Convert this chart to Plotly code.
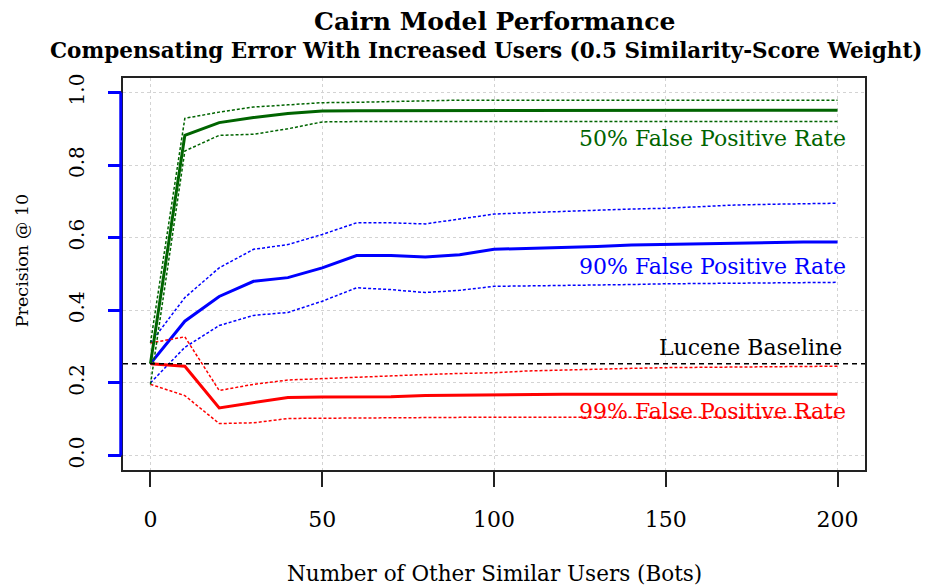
import plotly.graph_objects as go

# ---------------- data ----------------
bots = [0, 10, 20, 30, 40, 50, 60, 70, 80, 90, 100, 110, 120, 130, 140, 150, 160, 170, 180, 190, 200]

fp50_mean  = [0.253, 0.882, 0.917, 0.931, 0.942, 0.949, 0.950, 0.950, 0.950, 0.950, 0.951, 0.951, 0.951, 0.951, 0.951, 0.951, 0.951, 0.951, 0.951, 0.951, 0.951]
fp50_upper = [0.310, 0.929, 0.946, 0.960, 0.966, 0.972, 0.973, 0.975, 0.979, 0.979, 0.979, 0.979, 0.979, 0.979, 0.979, 0.979, 0.979, 0.979, 0.979, 0.979, 0.979]
fp50_lower = [0.196, 0.839, 0.882, 0.885, 0.900, 0.919, 0.920, 0.920, 0.920, 0.920, 0.920, 0.920, 0.920, 0.920, 0.920, 0.920, 0.920, 0.920, 0.920, 0.920, 0.920]

fp90_mean  = [0.253, 0.370, 0.438, 0.480, 0.490, 0.517, 0.551, 0.551, 0.547, 0.553, 0.568, 0.570, 0.572, 0.576, 0.580, 0.582, 0.583, 0.585, 0.588, 0.588, 0.588]
fp90_upper = [0.310, 0.435, 0.517, 0.568, 0.581, 0.609, 0.641, 0.641, 0.638, 0.652, 0.665, 0.669, 0.673, 0.675, 0.679, 0.681, 0.686, 0.690, 0.692, 0.694, 0.695]
fp90_lower = [0.200, 0.298, 0.358, 0.386, 0.394, 0.425, 0.462, 0.457, 0.449, 0.455, 0.466, 0.467, 0.467, 0.469, 0.471, 0.473, 0.474, 0.475, 0.476, 0.477, 0.477]

fp99_mean  = [0.253, 0.246, 0.131, 0.145, 0.160, 0.161, 0.161, 0.162, 0.165, 0.166, 0.169, 0.169, 0.169, 0.169, 0.169, 0.169, 0.169, 0.169, 0.169, 0.169, 0.169]
fp99_upper = [0.310, 0.327, 0.179, 0.196, 0.208, 0.212, 0.214, 0.218, 0.223, 0.226, 0.228, 0.233, 0.236, 0.238, 0.240, 0.242, 0.243, 0.245, 0.246, 0.246, 0.246]
fp99_lower = [0.196, 0.165, 0.088, 0.090, 0.102, 0.103, 0.104, 0.105, 0.105, 0.105, 0.105, 0.105, 0.105, 0.105, 0.105, 0.105, 0.105, 0.105, 0.105, 0.105, 0.105]

lucene_baseline = 0.253

x_ticks = [0, 50, 100, 150, 200]
y_ticks = [0.0, 0.2, 0.4, 0.6, 0.8, 1.0]
y_tick_labels = ["0.0", "0.2", "0.4", "0.6", "0.8", "1.0"]

series = [
    ("90% False Positive Rate", "#0000FF", fp90_mean, fp90_upper, fp90_lower, 0.522),
    ("99% False Positive Rate", "#FF0000", fp99_mean, fp99_upper, fp99_lower, 0.122),
    ("50% False Positive Rate", "#006400", fp50_mean, fp50_upper, fp50_lower, 0.873),
]

FONT = "DejaVu Serif"

fig = go.Figure()
for name, color, mean, up, lo, _ in series:
    for band in (up, lo):
        fig.add_trace(go.Scatter(x=bots, y=band, mode="lines", showlegend=False,
                                 line=dict(color=color, width=1.5, dash="3px,2px")))
    fig.add_trace(go.Scatter(x=bots, y=mean, mode="lines", name=name, showlegend=False,
                             line=dict(color=color, width=3)))

# Lucene baseline across the whole plot
fig.add_shape(type="line", xref="paper", x0=0, x1=1, yref="y", y0=lucene_baseline, y1=lucene_baseline,
              line=dict(color="black", width=1.5, dash="5px,4px"), layer="above")
# blue y-axis line spanning 0..1
fig.add_shape(type="line", xref="paper", x0=-0.003, x1=-0.003, yref="y", y0=0, y1=1,
              line=dict(color="#0000FF", width=3), layer="above")

annots = []
for name, color, mean, up, lo, ypos in series:
    annots.append(dict(x=203, y=ypos, xref="x", yref="y", text=name, showarrow=False,
                       xanchor="right", yanchor="middle",
                       font=dict(family=FONT, size=22, color=color)))
annots.append(dict(x=202, y=0.297, xref="x", yref="y", text="Lucene Baseline", showarrow=False,
                   xanchor="right", yanchor="middle", font=dict(family=FONT, size=22, color="black")))
annots.append(dict(x=0.5, y=1.143, xref="paper", yref="paper", text="<b>Cairn Model Performance</b>",
                   showarrow=False, xanchor="center", yanchor="middle",
                   font=dict(family=FONT, size=25, color="black")))
annots.append(dict(x=0.49, y=1.0714, xref="paper", yref="paper",
                   text="<b>Compensating Error With Increased Users (0.5 Similarity-Score Weight)</b>",
                   showarrow=False, xanchor="center", yanchor="middle",
                   font=dict(family=FONT, size=21.5, color="black")))
annots.append(dict(x=0.5, y=-0.2628, xref="paper", yref="paper", text="Number of Other Similar Users (Bots)",
                   showarrow=False, xanchor="center", yanchor="middle",
                   font=dict(family=FONT, size=21.5, color="black")))
annots.append(dict(x=-0.136, y=0.533, xref="paper", yref="paper", text="Precision @ 10", textangle=-90,
                   showarrow=False, xanchor="center", yanchor="middle",
                   font=dict(family=FONT, size=17.5, color="black")))

# page body has an 8px margin: shift plot area so it lands where the reference has it
fig.update_layout(
    width=935, height=587,
    margin=dict(l=115, r=78, t=70, b=125),
    paper_bgcolor="white", plot_bgcolor="white",
    annotations=annots,
    xaxis=dict(range=[-8, 208], tickvals=x_ticks, ticktext=[str(v) for v in x_ticks],
               showgrid=True, gridcolor="#D3D3D3", griddash="dot", gridwidth=1,
               zeroline=False, showline=True, mirror=True, linecolor="#222", linewidth=1.5,
               ticks="outside", ticklen=15, tickwidth=1.5, tickcolor="#222",
               ticklabelstandoff=14,
               tickfont=dict(family=FONT, size=22, color="black")),
    yaxis=dict(range=[-0.04, 1.04], tickvals=y_ticks, ticktext=y_tick_labels, tickangle=-90,
               showgrid=True, gridcolor="#D3D3D3", griddash="dot", gridwidth=1,
               zeroline=False, showline=True, mirror=True, linecolor="#222", linewidth=1.5,
               ticks="outside", ticklen=13, tickwidth=3, tickcolor="#0000FF",
               ticklabelstandoff=16,
               tickfont=dict(family=FONT, size=20, color="black")),
)

fig.write_html("out.html")
